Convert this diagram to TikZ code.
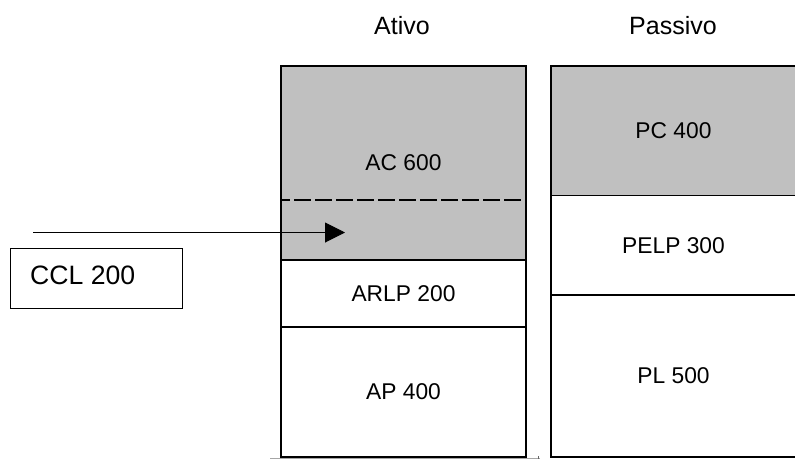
\documentclass[tikz,border=0pt]{standalone}
\usepackage{fontspec}
\setmainfont{Liberation Sans}
\usetikzlibrary{arrows.meta}
\begin{document}
\begin{tikzpicture}[x=1pt,y=-1pt,
  cell/.style={draw=black,line width=1.5pt,inner sep=0pt,anchor=center,
    font=\fontsize{22.8}{26}\selectfont},
  shaded/.style={cell,fill=shadegray},
  heading/.style={inner sep=0pt,font=\fontsize{25}{28}\selectfont},
  ccl/.style={draw=black,line width=1pt,inner sep=0pt,minimum width=172.5pt,minimum height=60pt},
  divider/.style={line width=1.8pt,dash pattern=on 16.5pt off 4.5pt,dash phase=9pt},
  flow/.style={line width=1pt,-{Triangle[length=20pt,width=20pt]}}]
\definecolor{shadegray}{HTML}{C0C0C0}
\useasboundingbox (0,0) rectangle (795,459);

% faint table rule under the asset column
\draw[line width=1pt,draw=black!35] (270,458.3) -- (540,458.3);
\draw[line width=0.8pt,draw=black!60] (538,456) -- (538,459);

% column headings
\node[heading] (ativo) at (402,26) {Ativo};
\node[heading] (passivo) at (673,26) {Passivo};

% assets
\node[shaded,minimum width=245pt,minimum height=194pt] (ac) at (403.5,163) {AC 600};
\node[cell,minimum width=245pt,minimum height=67pt] (arlp) at (403.5,293.5) {ARLP 200};
\node[cell,minimum width=245pt,minimum height=130pt] (ap) at (403.5,392) {AP 400};

% liabilities and equity
\node[shaded,minimum width=245pt,minimum height=129.5pt] (pc) at (673.5,130.75) {PC 400};
\node[cell,minimum width=245pt,minimum height=99.5pt] (pelp) at (673.5,245.25) {PELP 300};
\node[cell,minimum width=245pt,minimum height=162pt] (pl) at (673.5,376) {PL 500};

% split inside current assets
\coordinate (d1) at (282,200);
\coordinate (d2) at (522,200);
\draw[divider] (d1) -- (d2);

% working capital arrow
\coordinate (a0) at (33,232.5);
\coordinate (a1) at (345,232.5);
\draw[flow] (a0) -- (a1);

% working capital box
\node[ccl] (cclbox) at (96.5,278.3) {};
\node[anchor=west,inner sep=0pt,font=\fontsize{26.6}{30}\selectfont] (ccltext) at (30,275) {CCL 200};
\end{tikzpicture}
\end{document}
